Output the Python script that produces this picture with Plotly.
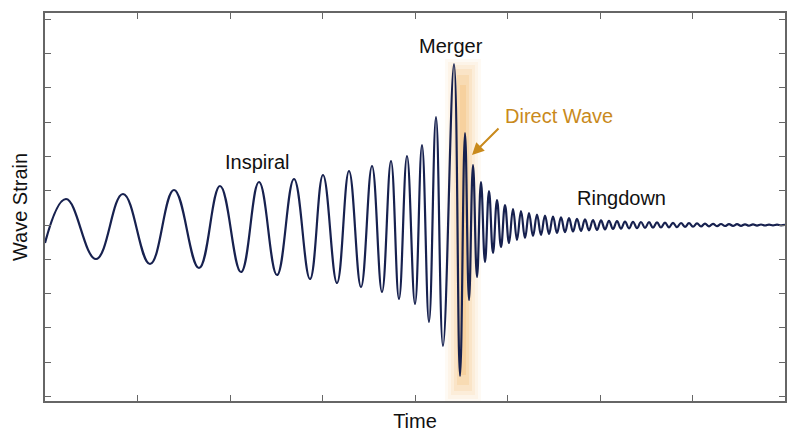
import plotly.graph_objects as go

# extrema of the waveform (time, strain), arbitrary units
inspiral_t = [0, 21, 51, 78, 105, 129, 154, 175, 196, 214, 232, 249, 265, 278, 292, 304,
              316, 327, 337, 346, 354, 362, 370, 377, 384, 391, 398]
inspiral_h = [-18, 26, -34, 31, -39, 35, -43, 39, -47, 43, -50, 46, -54, 50, -58, 54,
              -62, 59, -67, 64, -74, 69, -79, 80, -97, 108, -121]
merger_t = [409, 415, 420, 424, 428, 432, 436, 440, 444, 448]
merger_h = [161, -151, 92, -75, 60, -52, 43, -37, 34, -28]
ring_t = [452, 456, 460, 464, 468, 472, 476, 480, 484, 488, 492, 496, 500, 504, 508, 512,
          516, 520, 524, 528, 532, 536, 540, 544, 548, 552, 556, 560, 564, 568, 572, 576,
          580, 584, 588, 592, 596, 600, 604, 608, 612, 616, 620, 624, 628, 632, 636, 640,
          644, 648, 652, 656, 660, 664, 668, 672, 676, 680, 684, 688, 692, 696, 700, 704,
          708, 712, 716, 720, 724, 728, 732, 736, 740]
ring_h = [25, -22, 20, -18, 16, -15, 14, -13, 12, -11, 10.5, -10, 9.5, -9, 8.5, -8,
          7.6, -7.2, 6.8, -6.5, 6.2, -5.9, 5.6, -5.3, 5, -4.8, 4.6, -4.4, 4.2, -4, 3.8, -3.6,
          3.4, -3.3, 3.2, -3.1, 3, -2.9, 2.8, -2.7, 2.6, -2.5, 2.4, -2.3, 2.2, -2.1, 2, -1.9,
          1.8, -1.7, 1.6, -1.5, 1.4, -1.3, 1.2, -1.1, 1, -1, 0.9, -0.9, 0.8, -0.8, 0.7, -0.7,
          0.6, -0.6, 0.5, -0.5, 0.4, -0.4, 0.3, -0.3, 0.2]

x_ticks = [0, 92.5, 185, 277.5, 370, 462.5, 555, 647.5, 740]
y_ticks = [-171.5, -137.2, -102.9, -68.6, -34.3, 0, 34.3, 68.6, 102.9, 137.2, 171.5, 205.8]

t = inspiral_t + merger_t + ring_t
h = inspiral_h + merger_h + ring_h

fig = go.Figure()

# soft orange glow around the direct wave
for half_w, y0, y1, op in [(18, -178, 166, 0.05), (15, -174, 163, 0.06), (12, -170, 160, 0.08),
                           (9, -166, 156, 0.10), (6, -160, 150, 0.13), (3, -150, 140, 0.16)]:
    fig.add_shape(type="rect", x0=418 - half_w, x1=418 + half_w, y0=y0, y1=y1,
                  fillcolor="#f0a030", opacity=op, line_width=0, layer="below")

fig.add_trace(go.Scatter(x=t, y=h, mode="lines",
                         line=dict(color="#17214f", width=2.2, shape="spline", smoothing=1.2),
                         hoverinfo="skip", showlegend=False))

font = dict(family="Liberation Sans, Arial, sans-serif", size=20, color="#111")
fig.add_annotation(x=406, y=179, text="Merger", showarrow=False, font=font)
fig.add_annotation(x=212, y=63, text="Inspiral", showarrow=False, font=font)
fig.add_annotation(x=576, y=27, text="Ringdown", showarrow=False, font=font)
fig.add_annotation(x=514, y=109, text="Direct Wave", showarrow=False,
                   font=dict(family=font["family"], size=20, color="#c98a1c"))
fig.add_annotation(x=427, y=70, ax=455, ay=98, axref="x", ayref="y", text="",
                   showarrow=True, arrowhead=2, arrowsize=1.2, arrowwidth=2,
                   arrowcolor="#c98a1c")

axis = dict(showgrid=False, zeroline=False, showline=True, linecolor="#666", linewidth=1.5,
            mirror="ticks", ticks="inside", ticklen=6, tickcolor="#666",
            showticklabels=False, tickmode="array", automargin=False)
fig.update_xaxes(axis, range=[0, 740], tickvals=x_ticks,
                 title=dict(text="Time", font=font, standoff=12))
fig.update_yaxes(axis, range=[-176, 212], tickvals=y_ticks,
                 title=dict(text="Wave Strain", font=font, standoff=10))
fig.update_layout(width=792, height=439, margin=dict(l=37, r=15, t=5, b=46),
                  plot_bgcolor="white", paper_bgcolor="white")
fig.write_html("out.html")
